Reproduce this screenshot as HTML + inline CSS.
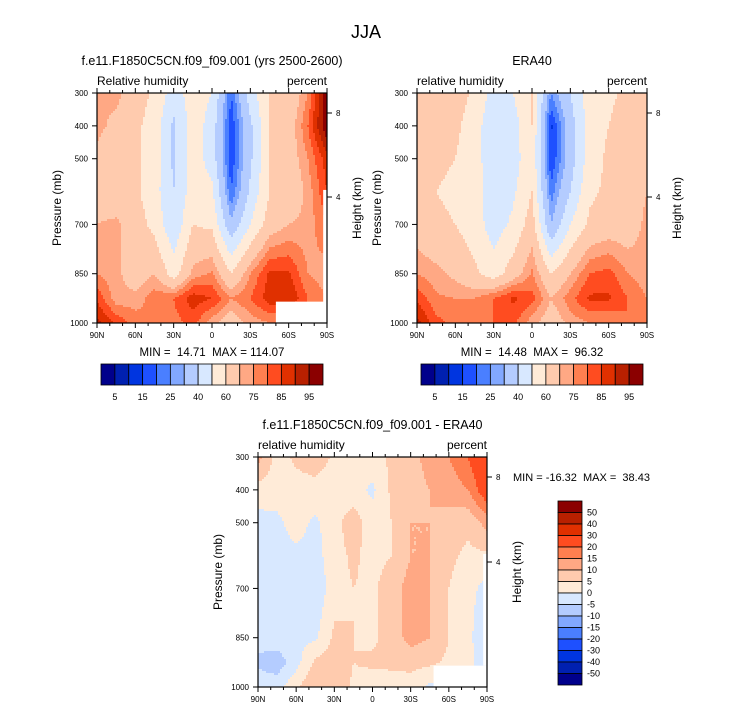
<!DOCTYPE html>
<html><head><meta charset="utf-8"><style>
body{margin:0;background:#fff;}
svg text{font-family:"Liberation Sans",sans-serif;fill:#000;white-space:pre;}
</style></head><body>
<svg id="s" width="733" height="712" xmlns="http://www.w3.org/2000/svg">
<text x="366" y="38" font-size="18" text-anchor="middle">JJA</text>
</svg>
<script>
// ---- data ----
const lats = [90,75,60,45,30,15,0,-15,-30,-45,-60,-75,-90];
const levels = [300,400,500,600,700,850,925,1000];
const latTickLabels = ["90N","60N","30N","0","30S","60S","90S"];
const pTickLabels = [300,400,500,700,850,1000];
const rhBounds = [5,10,15,20,25,30,40,50,60,70,75,80,85,90,95];
const rhBarLabels = ["5","15","25","40","60","75","85","95"];
const diffBounds = [-50,-40,-30,-20,-15,-10,-5,0,5,10,15,20,30,40,50];
const diffBarLabels = ["50","40","30","20","15","10","5","0","-5","-10","-15","-20","-30","-40","-50"];
const colors = ["#00008b","#0020b0","#0035e0","#1e50ff","#4a7fff","#82a8ff","#b4ccff","#d8e8ff","#ffebd8","#ffcbae","#ffa884","#ff7f50","#ff4c20","#e03000","#b82000","#8b0000"];
const modelRH = [
 [70,72,65,58,45,55,50,20,45,60,62,75,100],
 [72,68,62,56,38,55,46,16,38,60,65,80,100],
 [68,62,62,55,38,55,46,16,38,60,65,75,88],
 [65,62,62,54,40,55,52,20,42,60,62,72,85],
 [70,72,65,57,42,60,58,32,50,65,70,72,80],
 [75,72,65,70,55,72,76,60,75,86,86,75,72],
 [84,72,72,78,80,88,85,75,80,88,90,80,75],
 [92,84,78,75,78,82,72,65,72,75,75,80,80]];
const eraRH = [
 [62,70,65,58,46,50,60,25,40,55,58,62,62],
 [70,68,62,55,42,45,60,14,35,55,60,65,65],
 [65,62,60,55,42,45,58,15,35,55,62,65,68],
 [62,60,58,55,44,48,60,22,40,58,62,65,70],
 [65,62,60,55,45,52,65,30,50,62,65,65,72],
 [75,72,68,62,55,65,76,60,70,80,82,75,72],
 [84,76,75,75,80,86,82,70,78,86,86,80,75],
 [92,82,78,75,80,82,72,65,72,75,75,80,80]];
const diffRH = [
 [12,3,6,8,4,2,3,6,8,12,15,20,28],
 [3,2,3,3,2,2,-1,6,8,10,12,15,25],
 [-2,-1,2,-1,3,8,2,5,10,10,8,6,12],
 [-3,-2,-1,-2,3,6,3,5,10,10,6,4,4],
 [-2,-2,-1,-4,3,5,4,8,12,10,5,2,-2],
 [-3,-2,-1,-1,6,5,4,7,12,10,5,2,-6],
 [-6,-8,-2,6,8,5,6,6,7,6,4,2,-4],
 [-2,-2,4,10,10,4,2,3,2,-1,0,1,-2]];

const NS="http://www.w3.org/2000/svg";
const svg=document.getElementById('s');
function mk(tag,attrs,parent){const e=document.createElementNS(NS,tag);for(const k in attrs)e.setAttribute(k,attrs[k]);(parent||svg).appendChild(e);return e;}
function txt(x,y,s,size,anchor,parent,rot){const t=mk('text',{x:x,y:y,'font-size':size,'text-anchor':anchor||'start'},parent);if(rot)t.setAttribute('transform','rotate(-90 '+x+' '+y+')');t.textContent=s;return t;}
function colorIdx(v,b){let i=0;while(i<b.length&&v>=b[i])i++;return i;}
function sample(grid,lat,p){
  let j=0;while(j<lats.length-2&&lat<lats[j+1])j++;
  let i=0;while(i<levels.length-2&&p>levels[i+1])i++;
  const fx=(lats[j]-lat)/(lats[j]-lats[j+1]), fy=(p-levels[i])/(levels[i+1]-levels[i]);
  const a=grid[i][j],b=grid[i][j+1],c=grid[i+1][j],d=grid[i+1][j+1];
  return a*(1-fx)*(1-fy)+b*fx*(1-fy)+c*(1-fx)*fy+d*fx*fy;
}
function panel(o){
  const g=mk('g',{});
  
  
  const X=lat=>o.x+(90-lat)/180*o.w;
  const Y=p=>o.y+(p-300)/700*o.h;
  const st=2;
  const cells=mk('g',{},g);
  
  
  for(let py=0;py<o.h;py+=st){
    const p=300+(py+st/2)/o.h*700;
    let runStart=0,runC=-1;
    for(let px=0;px<o.w;px+=st){
      const lat=90-(px+st/2)/o.w*180;
      const c=colorIdx(sample(o.data,lat,p),o.bounds);
      if(c!==runC){
        if(runC>=0){mk('rect',{x:o.x+runStart,y:o.y+py,width:px-runStart+0.5,height:Math.min(st+0.5,o.h-py),fill:colors[runC]},cells);}
        runStart=px;runC=c;
      }
    }
    mk('rect',{x:o.x+runStart,y:o.y+py,width:o.w-runStart,height:Math.min(st+0.5,o.h-py),fill:colors[runC]},cells);
  }
  if(o.missing){for(const m of o.missing){mk('rect',{x:X(m[0]),y:Y(m[1]),width:X(m[2])-X(m[0]),height:Y(m[3])-Y(m[1]),fill:'#fff'},g);}}
  mk('rect',{x:o.x,y:o.y,width:o.w,height:o.h,fill:'none',stroke:'#000','stroke-width':1.2},g);
  for(let lat=90;lat>=-90;lat-=10){const maj=lat%30===0;const x=X(lat);const L=maj?5:3;
    mk('line',{x1:x,y1:o.y+o.h,x2:x,y2:o.y+o.h+L,stroke:'#000','stroke-width':1},g);
    mk('line',{x1:x,y1:o.y,x2:x,y2:o.y-L,stroke:'#000','stroke-width':1},g);}
  latTickLabels.forEach((s,k)=>{txt(o.x+k*o.w/6,o.y+o.h+15,s,8,'middle',g);});
  pTickLabels.forEach(p=>{const y=Y(p);mk('line',{x1:o.x,y1:y,x2:o.x-5,y2:y,stroke:'#000'},g);txt(o.x-9,y+3,String(p),8,'end',g);});
  [[8,o.h8],[4,o.h4]].forEach(h=>{mk('line',{x1:o.x+o.w,y1:h[1],x2:o.x+o.w+5,y2:h[1],stroke:'#000'},g);txt(o.x+o.w+9,h[1]+3,String(h[0]),8,'start',g);});
  txt(o.x,o.y-8,o.left,12,'start',g);
  txt(o.x+o.w,o.y-8,'percent',12,'end',g);
  txt(o.x+o.w/2,o.y-28,o.title,12.5,'middle',g);
  txt(o.x-36,o.y+o.h/2,'Pressure (mb)',12,'middle',g,true);
  txt(o.x+o.w+34,o.y+o.h/2,'Height (km)',12,'middle',g,true);
}
panel({name:'model-panel',x:97,y:93,w:230,h:230,data:modelRH,bounds:rhBounds,title:'f.e11.F1850C5CN.f09_f09.001 (yrs 2500-2600)',left:'Relative humidity',h8:113,h4:197,missing:[[-50,935,-90,1000],[-87,595,-90,1000]]});
panel({name:'era40-panel',x:417,y:93,w:230,h:230,data:eraRH,bounds:rhBounds,title:'ERA40',left:'relative humidity',h8:113,h4:197});
panel({name:'difference-panel',x:258,y:457,w:229,h:230,data:diffRH,bounds:diffBounds,title:'f.e11.F1850C5CN.f09_f09.001 - ERA40',left:'relative humidity',h8:477,h4:562,missing:[[-48,935,-90,1000],[-87,595,-90,935]]});
txt(212,356,'MIN =  14.71  MAX = 114.07',11.5,'middle');
txt(532,356,'MIN =  14.48  MAX =  96.32',11.5,'middle');
txt(513,481,'MIN = -16.32  MAX =  38.43',11,'start');
function hbar(x0,name){const g=mk('g',{});
  const w=222/16;colors.forEach((c,k)=>mk('rect',{x:x0+k*w,y:364,width:w,height:21,fill:c,stroke:'#000','stroke-width':0.8},g));
  rhBarLabels.forEach((s,k)=>txt(x0+(2*k+1)*w,400,s,9,'middle',g));}
hbar(101,'model-colorbar');hbar(421,'era40-colorbar');
(function(){const g=mk('g',{});
  const h=184/16;for(let k=0;k<16;k++)mk('rect',{x:558,y:501+k*h,width:24,height:h,fill:colors[15-k],stroke:'#000','stroke-width':0.8},g);
  diffBarLabels.forEach((s,k)=>txt(587,501+(k+1)*h+3,s,9,'start',g));})();
</script>
</body></html>
